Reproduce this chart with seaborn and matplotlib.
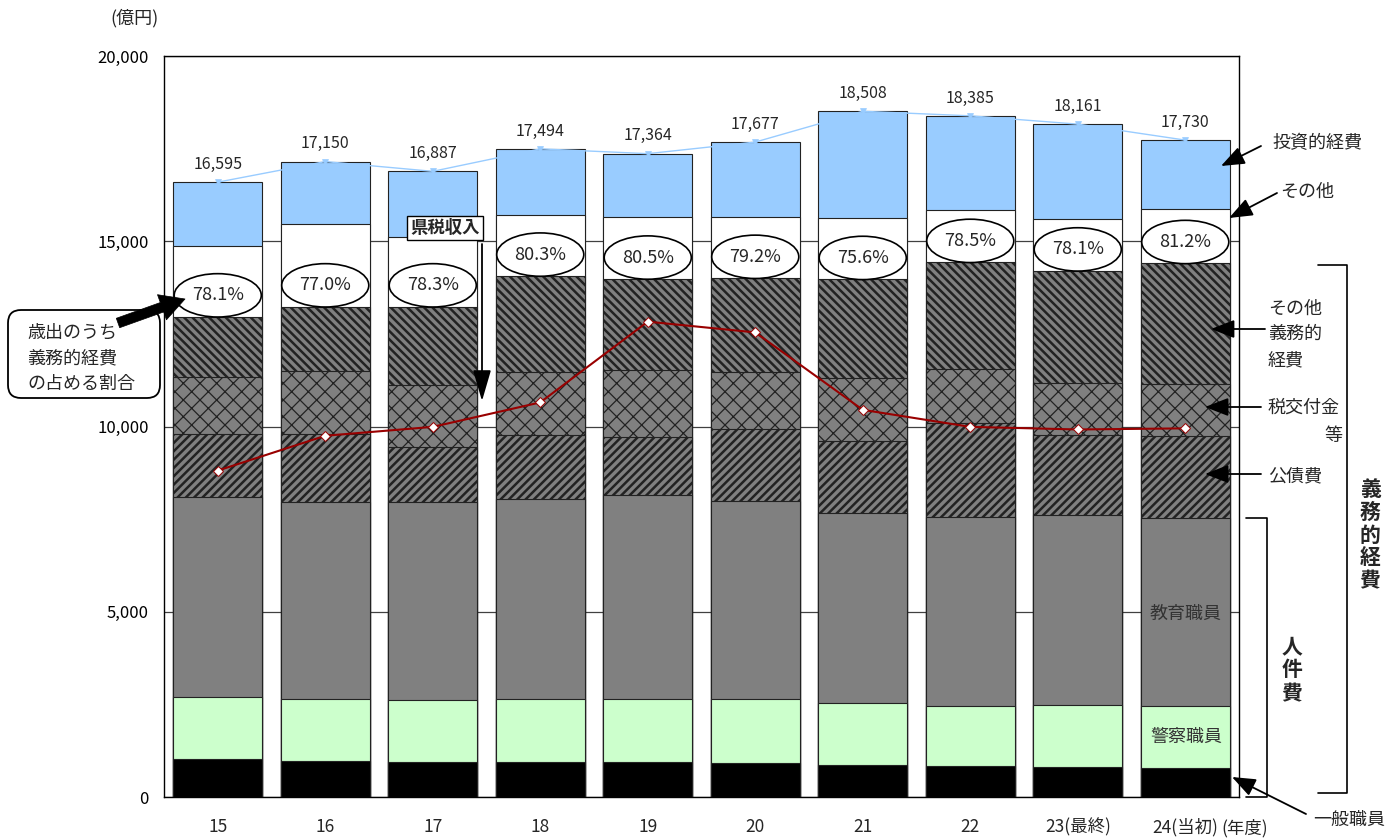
import numpy as np
import matplotlib
matplotlib.use("Agg")
import matplotlib.pyplot as plt
import seaborn as sns
from matplotlib.patches import Ellipse, FancyBboxPatch, FancyArrowPatch
from matplotlib.lines import Line2D
from matplotlib.ticker import FuncFormatter

# ---------------- data (億円) ----------------
years = ["15", "16", "17", "18", "19", "20", "21", "22", "23(最終)", "24(当初)"]
general_staff = [1025, 980, 935, 935, 935, 910, 860, 840, 820, 790]          # 一般職員
police_staff = [1665, 1660, 1675, 1715, 1715, 1730, 1670, 1620, 1660, 1670]  # 警察職員
education_staff = [5415, 5310, 5360, 5400, 5490, 5360, 5140, 5110, 5130, 5080]  # 教育職員
debt_service = [1695, 1850, 1480, 1730, 1570, 1920, 1950, 2520, 2160, 2210]  # 公債費
tax_grants = [1540, 1710, 1670, 1700, 1810, 1560, 1680, 1450, 1400, 1400]    # 税交付金等
other_mandatory = [1620, 1720, 2110, 2580, 2460, 2520, 2670, 2890, 3030, 3250]  # その他義務的経費
others = [1920, 2230, 1890, 1650, 1670, 1650, 1650, 1410, 1400, 1460]        # その他
investment = [1715, 1690, 1767, 1784, 1714, 2027, 2888, 2545, 2561, 1870]    # 投資的経費
totals = [16595, 17150, 16887, 17494, 17364, 17677, 18508, 18385, 18161, 17730]
mandatory_ratio = ["78.1%", "77.0%", "78.3%", "80.3%", "80.5%", "79.2%", "75.6%", "78.5%", "78.1%", "81.2%"]
pref_tax = [8810, 9750, 9990, 10650, 12830, 12540, 10450, 9990, 9920, 9950]  # 県税収入

# ---------------- style ----------------
sns.set_style("white")
plt.rcParams["font.family"] = ["Noto Sans CJK JP", "DejaVu Sans"]
plt.rcParams["hatch.color"] = "black"

W, H = 1396, 839
fig = plt.figure(figsize=(W / 100, H / 100), dpi=100)
ax = fig.add_axes([164 / W, (H - 797) / H, (1239 - 164) / W, (797 - 56) / H])

layers = [  # bottom -> top
    (general_staff, "black", None, 0.8),
    (police_staff, "#CCFFCC", None, 0.8),
    (education_staff, "#808080", None, 0.8),
    (debt_service, "#808080", "////", 1.8),
    (tax_grants, "#808080", "xx", 0.9),
    (other_mandatory, "#808080", "\\\\\\\\", 1.8),
    (others, "white", None, 0.8),
    (investment, "#99CCFF", None, 0.8),
]
cum = np.cumsum(np.array([l[0] for l in layers], dtype=float), axis=0)

for k in range(len(layers) - 1, -1, -1):
    vals, col, hatch, hlw = layers[k]
    plt.rcParams["hatch.linewidth"] = hlw
    n_before = len(ax.patches)
    sns.barplot(x=years, y=cum[k], order=years, color=col, saturation=1,
                width=0.83, edgecolor="#222222", linewidth=0.8, hatch=hatch,
                errorbar=None, ax=ax, zorder=2)
    for p in ax.patches[n_before:]:
        if hasattr(p, "set_hatch_linewidth"):
            p.set_hatch_linewidth(hlw)

xpos = np.arange(len(years))
# total line
sns.lineplot(x=xpos, y=totals, color="#99CCFF", lw=1, marker="v", markersize=4,
             markeredgewidth=0.5, markeredgecolor="#99CCFF", ax=ax, zorder=3)
# prefectural tax line
sns.lineplot(x=xpos, y=pref_tax, color="#990000", lw=1.5, marker="D", markersize=5,
             markerfacecolor="white", markeredgecolor="#990000", markeredgewidth=0.7,
             ax=ax, zorder=5)

# total labels and ratio ellipses
mand_top = cum[5]
for i in range(len(years)):
    ax.text(i, totals[i] + 480, f"{totals[i]:,}", ha="center", va="center", fontsize=11.5, zorder=6)
    ax.add_patch(Ellipse((i, mand_top[i] + 580), 0.81, 1170, facecolor="white",
                         edgecolor="black", lw=1.2, zorder=6))
    ax.text(i, mand_top[i] + 580, mandatory_ratio[i], ha="center", va="center",
            fontsize=13, zorder=7)

ax.set_xlim(-0.5, len(years) - 0.5)
ax.set_ylim(0, 20000)
ax.set_yticks([0, 5000, 10000, 15000, 20000])
ax.yaxis.set_major_formatter(FuncFormatter(lambda v, p: f"{int(v):,}"))
ax.set_axisbelow(True)
ax.yaxis.grid(True, color="#404040", lw=0.9)
ax.xaxis.grid(False)
ax.tick_params(axis="y", direction="in", length=7, width=1, labelsize=12, pad=11, colors="black")
ax.tick_params(axis="x", length=0, labelsize=12.5, pad=15)
ax.set_xlabel("")
ax.set_ylabel("")
for s in ax.spines.values():
    s.set_visible(True)
    s.set_color("black")
    s.set_linewidth(1)

# ---------------- annotations (pixel helper) ----------------
T = fig.dpi_scale_trans


def P(x, y):
    return (x / 100, (H - y) / 100)


def txt(x, y, s, **kw):
    kw.setdefault("fontsize", 13)
    kw.setdefault("ha", "center")
    kw.setdefault("va", "center")
    kw.setdefault("zorder", 9)
    fig.text(*P(x, y), s, transform=T, **kw)


def arrow(x0, y0, x1, y1, lw=1.3, style="-|>,head_length=0.9,head_width=0.35", ms=16):
    fig.add_artist(FancyArrowPatch(P(x0, y0), P(x1, y1), transform=T, arrowstyle=style,
                                   mutation_scale=ms, color="black", lw=lw,
                                   shrinkA=0, shrinkB=0, zorder=8))


def line(xs, ys, lw=1.2):
    pts = [P(x, y) for x, y in zip(xs, ys)]
    fig.add_artist(Line2D([p[0] for p in pts], [p[1] for p in pts], transform=T,
                          color="black", lw=lw, zorder=8))


txt(135, 18, "(億円)", fontsize=13)
txt(1221, 828, "(年度)", fontsize=12.5, ha="left")

# left callout
fig.add_artist(FancyBboxPatch(P(8, 398), 1.52, 0.88, boxstyle="round,pad=0,rounding_size=0.13",
                              transform=T, facecolor="white", edgecolor="black", lw=1.3, zorder=7))
txt(27, 332, "歳出のうち", ha="left")
txt(27, 358, "義務的経費", ha="left")
txt(27, 384, "の占める割合", ha="left")
arrow(118, 323, 185, 299, lw=0.5, style="simple,head_length=1.1,head_width=1.2,tail_width=0.45", ms=16)

# 県税収入 label
txt(445, 228, "県税収入", fontsize=12.5, fontweight="bold",
    bbox=dict(boxstyle="square,pad=0.2", facecolor="white", edgecolor="black", lw=1))
arrow(482, 244, 482, 401, lw=1.3, style="-|>,head_length=1.2,head_width=0.35", ms=16)

# right side labels
txt(1272, 143, "投資的経費", ha="left")
arrow(1261, 146, 1221, 166)
txt(1280, 192, "その他", ha="left")
arrow(1277, 193, 1229, 218)
txt(1268, 309, "その他", ha="left")
txt(1268, 334, "義務的", ha="left")
txt(1268, 360, "経費", ha="left")
arrow(1265, 329, 1211, 329)
txt(1268, 408, "税交付金", ha="left")
txt(1342, 436, "等", ha="right")
arrow(1261, 407, 1205, 407)
txt(1268, 476, "公債費", ha="left")
arrow(1261, 474, 1205, 474)

# brackets
line([1318, 1347, 1347, 1318], [265, 265, 793, 793])
txt(1370, 535, "義\n務\n的\n経\n費", fontsize=15, fontweight="bold", linespacing=1.1)
line([1246, 1267, 1267, 1246], [518, 518, 797, 797])
txt(1292, 670, "人\n件\n費", fontsize=15, fontweight="bold", linespacing=1.15)

# in-bar labels
txt(1186, 614, "教育職員", color="#333333")
txt(1186, 737, "警察職員", color="#333333")
txt(1349, 820, "一般職員")
arrow(1306, 814, 1232, 777)

fig.savefig("out.png", dpi=100)
